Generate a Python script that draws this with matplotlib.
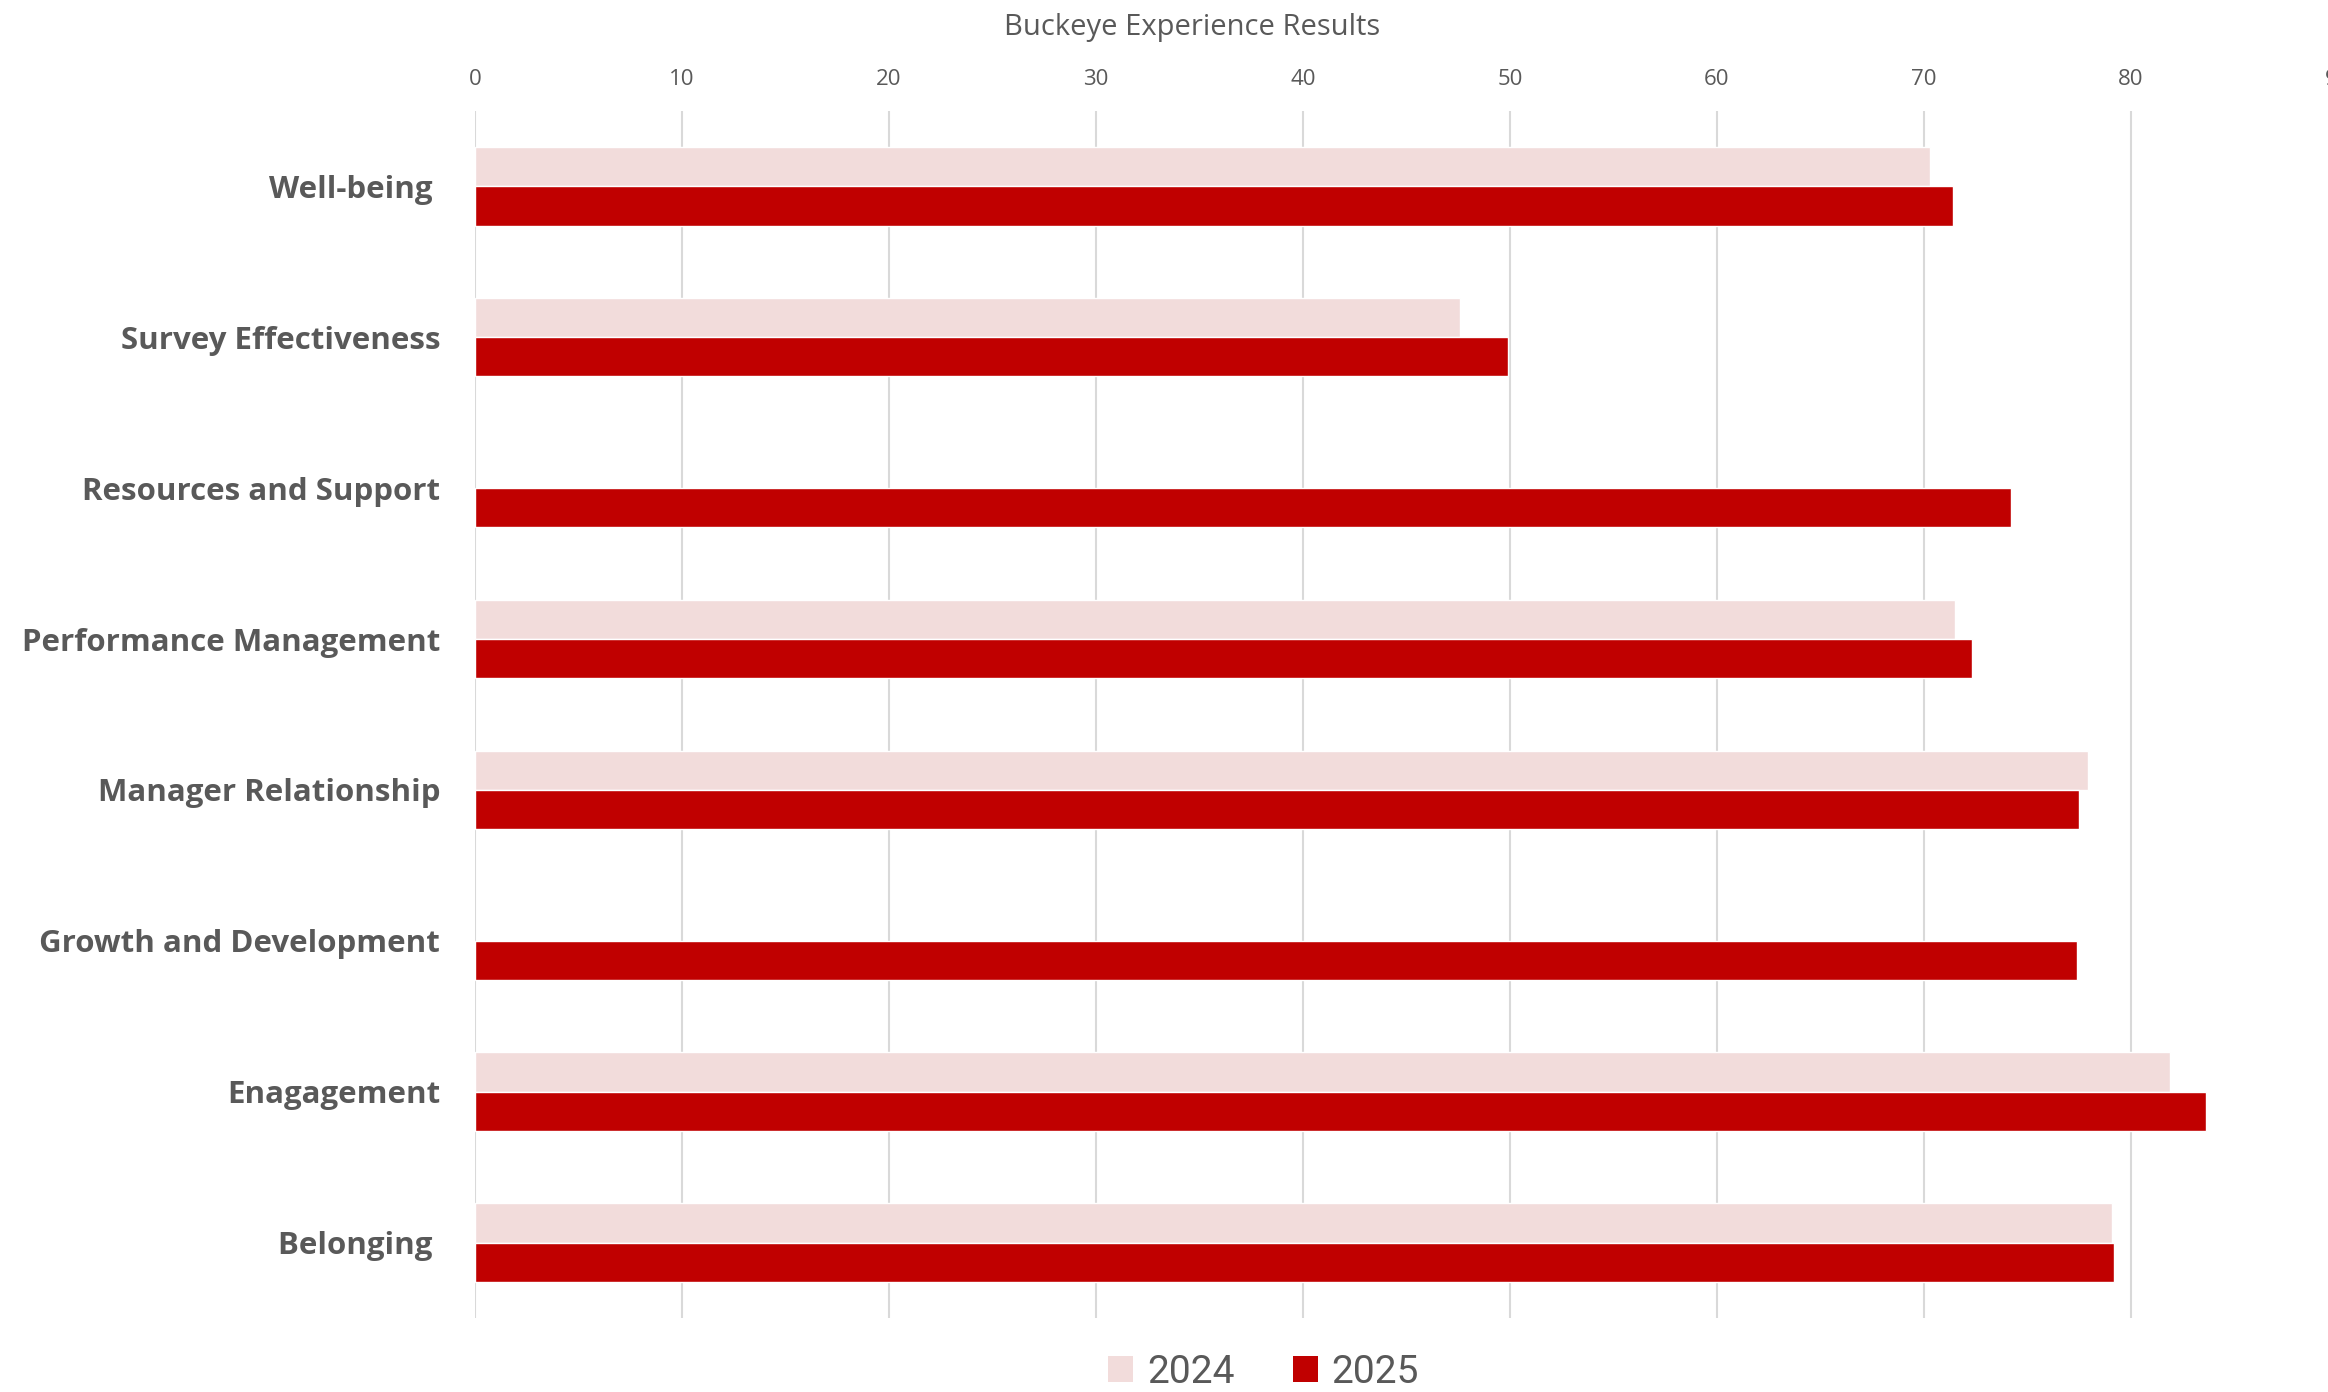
import numpy as np
import matplotlib
matplotlib.use("Agg")
import matplotlib.pyplot as plt
from matplotlib.patches import Patch

categories = ["Well-being ", "Survey Effectiveness", "Resources and Support",
              "Performance Management", "Manager Relationship",
              "Growth and Development", "Enagagement", "Belonging "]
scores_2024 = [70.3, 47.6, np.nan, 71.5, 77.9, np.nan, 81.9, 79.1]
scores_2025 = [71.4, 49.9, 74.2, 72.3, 77.5, 77.4, 83.6, 79.2]
series_labels = ["2024", "2025"]
x_ticks = list(range(0, 100, 10))

light = "#F2DCDB"
dark = "#C00000"
grey = "#595959"

fig = plt.figure(figsize=(23.28, 13.92), dpi=100)
ax = fig.add_axes([0.204, 0.0532, 0.8003, 0.8671])

y = np.arange(len(categories))
h = 0.26
ax.barh(y - h / 2, scores_2024, height=h, color=light, edgecolor="white", linewidth=1, zorder=3)
ax.barh(y + h / 2, scores_2025, height=h, color=dark, edgecolor="white", linewidth=1, zorder=3)

ax.set_xlim(0, 90)
ax.set_ylim(len(categories) - 0.5, -0.5)
ax.set_xticks(x_ticks)
ax.xaxis.tick_top()
ax.tick_params(axis="x", length=0, pad=15, labelsize=16, labelcolor=grey)
for lab in ax.get_xticklabels():
    lab.set_fontfamily("Open Sans")
ax.set_yticks(y)
ax.set_yticklabels(categories, fontsize=22.5, fontweight="bold", color=grey, fontfamily="Open Sans")
ax.tick_params(axis="y", length=0, pad=25)
ax.grid(axis="x", color="#D9D9D9", linewidth=1.5, zorder=0)
for s in ax.spines.values():
    s.set_visible(False)

fig.text(0.512, 0.98, "Buckeye Experience Results", ha="center", va="center",
         fontsize=21, color=grey, fontfamily="Open Sans")

handles = [Patch(facecolor=light, label=series_labels[0]),
           Patch(facecolor=dark, label=series_labels[1])]
fig.legend(handles=handles, loc="center", bbox_to_anchor=(0.5427, 0.014), ncol=2,
           frameon=False, prop={"family": "Roboto", "size": 28}, labelcolor=grey,
           handlelength=0.65, handleheight=0.65, handletextpad=0.35, columnspacing=1.5)

fig.savefig("out.png", dpi=100)
